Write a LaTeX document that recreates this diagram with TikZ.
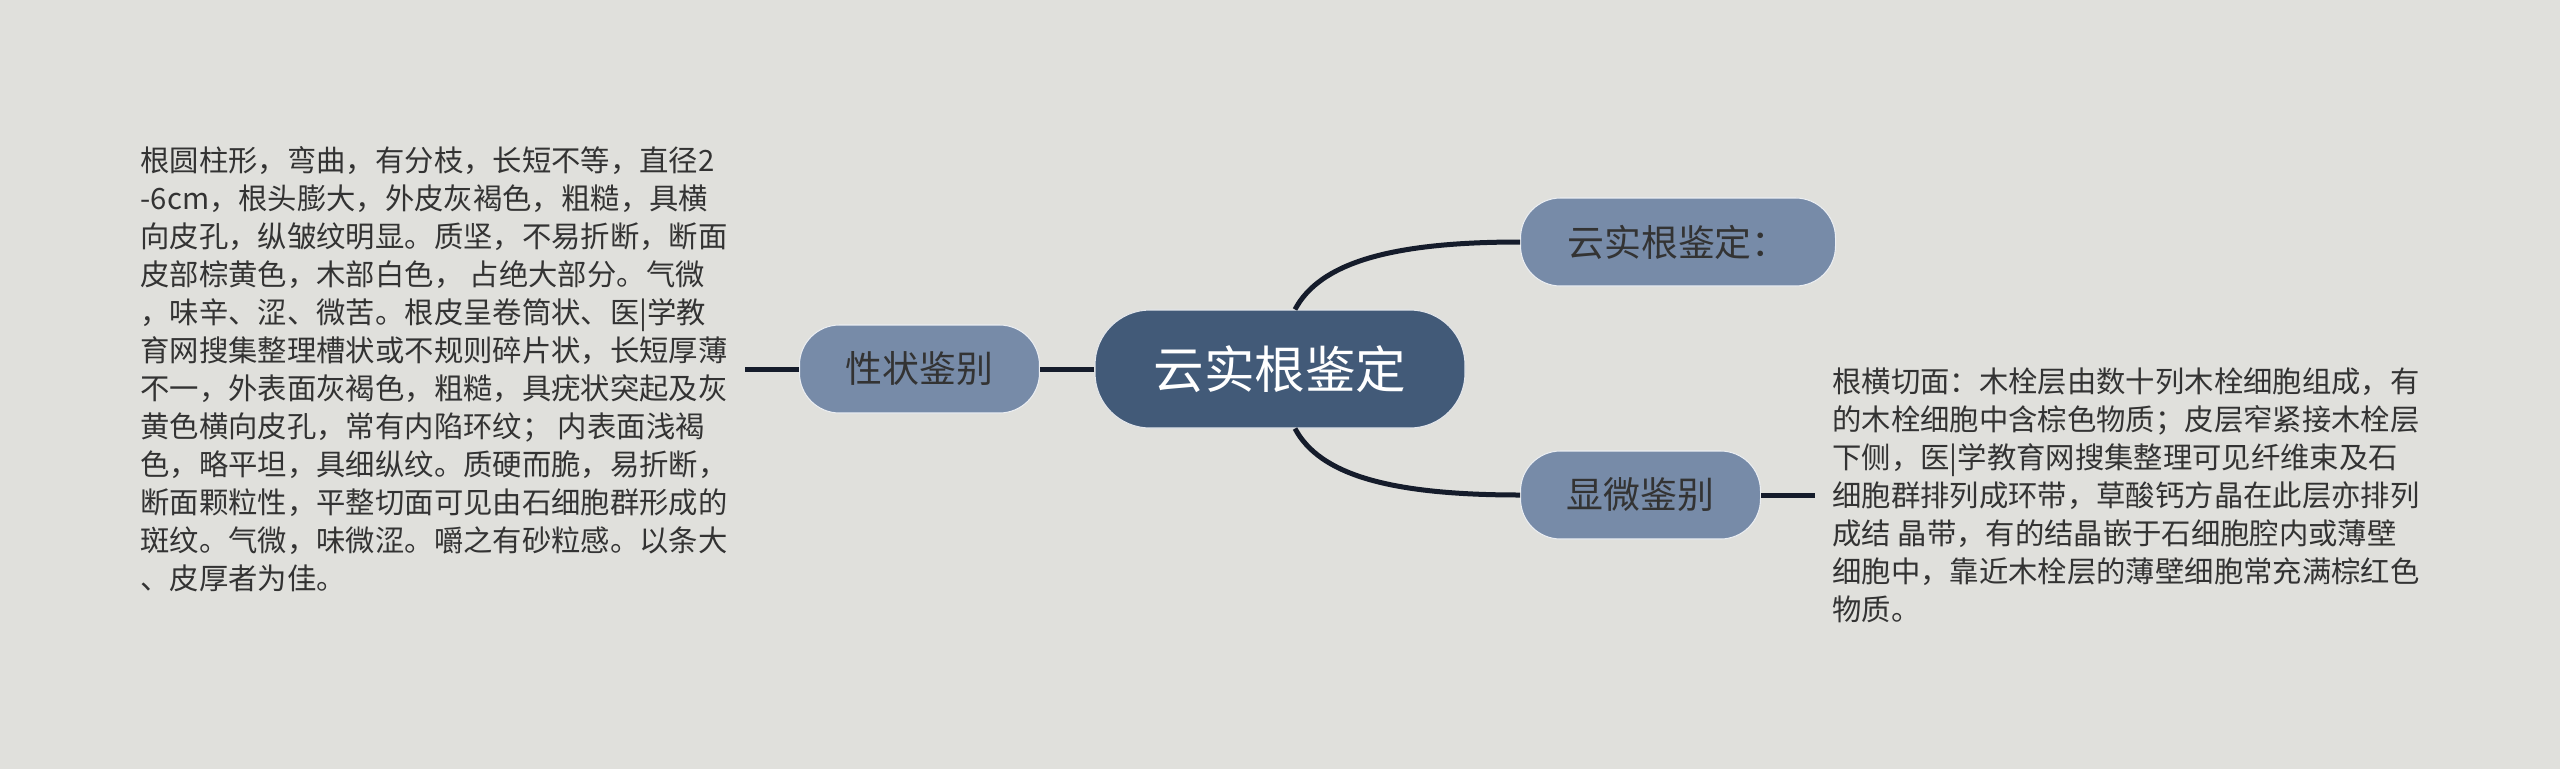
\documentclass[tikz,border=0pt]{standalone}
\usepackage{fontspec}
\setmainfont{Noto Sans CJK SC}
\usetikzlibrary{positioning}

\definecolor{bgcol}{HTML}{E0E0DC}
\definecolor{rootcol}{HTML}{425A78}
\definecolor{subcol}{HTML}{778BA8}
\definecolor{linecol}{HTML}{151C2B}
\definecolor{txtcol}{HTML}{333333}

\begin{document}
\begin{tikzpicture}[line width=0.1cm,
    root/.style={fill=rootcol, draw=white!85!rootcol, line width=0.6pt, rounded corners=1.1cm,
      minimum width=7.4cm, minimum height=2.36cm, text=white, font=\fontsize{28.8pt}{34pt}\selectfont},
    sub/.style={fill=subcol, draw=white!85!subcol, line width=0.6pt, rounded corners=0.8cm,
      minimum height=1.76cm, text=txtcol, font=\fontsize{21pt}{25pt}\selectfont},
    leaf/.style={align=left, inner xsep=0.3cm, text=txtcol, font=\fontsize{16.7pt}{21.6pt}\selectfont},
    link/.style={draw=linecol, line width=0.1cm}]

   \fill[bgcol] (0,0) rectangle (51.2,-15.38);
   \useasboundingbox (0,0) rectangle (51.2,-15.38);

   \node [root] (root) at (25.6,-7.38) {云实根鉴定};
   \node [sub, minimum width=4.8cm, anchor=east] (xz) at (20.8,-7.38) {性状鉴别};
   \node [sub, minimum width=6.3cm, anchor=west] (jd) at (30.4,-4.84) {云实根鉴定：};
   \node [sub, minimum width=4.8cm, anchor=west] (xw) at (30.4,-9.9) {显微鉴别};

   \node [leaf, anchor=east] (xzt) at (14.9,-7.38) {根圆柱形，弯曲，有分枝，长短不等，直径2\\
-6cm，根头膨大，外皮灰褐色，粗糙，具横\\
向皮孔，纵皱纹明显。质坚，不易折断，断面\\
皮部棕黄色，木部白色， 占绝大部分。气微\\
，味辛、涩、微苦。根皮呈卷筒状、医|学教\\
育网搜集整理槽状或不规则碎片状，长短厚薄\\
不一，外表面灰褐色，粗糙，具疣状突起及灰\\
黄色横向皮孔，常有内陷环纹； 内表面浅褐\\
色，略平坦，具细纵纹。质硬而脆，易折断，\\
断面颗粒性，平整切面可见由石细胞群形成的\\
斑纹。气微，味微涩。嚼之有砂粒感。以条大\\
、皮厚者为佳。};%
   \node [leaf, anchor=west] (xwt) at (36.3,-9.9) {根横切面：木栓层由数十列木栓细胞组成，有\\
的木栓细胞中含棕色物质；皮层窄紧接木栓层\\
下侧，医|学教育网搜集整理可见纤维束及石\\
细胞群排列成环带，草酸钙方晶在此层亦排列\\
成结 晶带，有的结晶嵌于石细胞腔内或薄壁\\
细胞中，靠近木栓层的薄壁细胞常充满棕红色\\
物质。};%

   % links
   \foreach \i/\j in {root/xz, xz/xzt, xw/xwt}
      \draw [link] (\i) -- (\j);
   \draw [link] ([xshift=0.3cm]root.north) to[out=62, in=180, out distance=1.05cm, in distance=2.6cm] (jd.west);
   \draw [link] ([xshift=0.3cm]root.south) to[out=-62, in=180, out distance=1.05cm, in distance=2.6cm] (xw.west);

\end{tikzpicture}
\end{document}
